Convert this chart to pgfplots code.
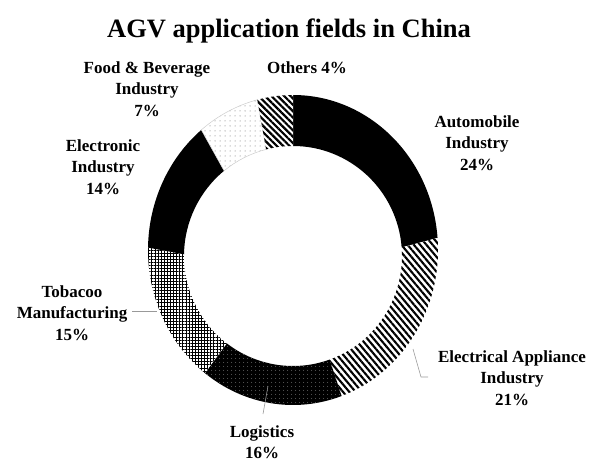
\documentclass[border=0pt]{standalone}
\usepackage{pgfplots}
\pgfplotsset{compat=1.18}
\usepackage{pgfplotstable}
\usetikzlibrary{patterns.meta}
\usepackage{fontspec}
\setmainfont{Liberation Serif}

\pgfplotstableread{
value
24
21
16
15
14
7
4
}\shares

\tikzset{
 seg0/.style={fill=black},
 seg1/.style={preaction={fill=white}, pattern={Lines[angle=-50,distance=4.8pt,line width=2.1pt]}},
 seg2/.style={preaction={fill=black}, pattern={Dots[distance=4pt,radius=0.5pt]}, pattern color=white!55!black},
 seg3/.style={preaction={fill=white}, pattern={Hatch[distance=3.1pt,line width=0.95pt]}},
 seg4/.style={fill=black},
 seg5/.style={preaction={fill=white}, pattern={Dots[distance=5pt,radius=0.5pt]}, pattern color=black!60, draw=black!20, line width=0.5pt},
 seg6/.style={preaction={fill=white}, pattern={Lines[angle=-45,distance=4.5pt,line width=2.2pt]}},
}

\pgfmathsetmacro\total{0}
\pgfplotsforeachungrouped \i in {0,...,6}{%
  \pgfplotstablegetelem{\i}{value}\of\shares
  \pgfmathsetmacro\total{\total+\pgfplotsretval}%
}
\pgfmathsetmacro\cum{0}
\pgfplotsforeachungrouped \i in {0,...,6}{%
  \pgfplotstablegetelem{\i}{value}\of\shares
  \pgfmathsetmacro\sa{90-360*(\cum/\total)}%
  \pgfmathsetmacro\cum{\cum+\pgfplotsretval}%
  \pgfmathsetmacro\ea{90-360*(\cum/\total)}%
  \expandafter\xdef\csname angS\i\endcsname{\sa}%
  \expandafter\xdef\csname angE\i\endcsname{\ea}%
}

\begin{document}
\begin{tikzpicture}
\begin{axis}[
  hide axis, x=1pt, y=1pt, scale only axis,
  xmin=0, xmax=592, ymin=0, ymax=461,
  clip=false, anchor=origin, at={(0,0)},
]
\addplot[draw=none] coordinates {(0,0) (592,461)};
\pgfplotsextra{%
  \foreach \i in {0,...,6}{%
    \edef\s{\csname angS\i\endcsname}%
    \edef\e{\csname angE\i\endcsname}%
    \fill[seg\i] (axis cs:{293+145*cos(\s)},{211+155*sin(\s)})
       arc[start angle=\s, end angle=\e, x radius=145pt, y radius=155pt]
       -- (axis cs:{293+109*cos(\e)},{205+110*sin(\e)})
       arc[start angle=\e, end angle=\s, x radius=109pt, y radius=110pt]
       -- cycle;
  }%
}
\draw[black!40, line width=0.6pt] (axis cs:132,150) -- (axis cs:157,150);
\draw[black!40, line width=0.6pt] (axis cs:263,47) -- (axis cs:268,75);
\draw[black!40, line width=0.6pt] (axis cs:413,112) -- (axis cs:421,84) -- (axis cs:428,84);

\node[font=\fontsize{26.5}{30}\selectfont\bfseries] at (axis cs:289,430) {AGV application fields in China};
\tikzset{lbl/.style={align=center, font=\fontsize{17}{21.5}\selectfont\bfseries, inner sep=0pt}}
\node[lbl] at (axis cs:147,372) {Food \& Beverage\\Industry\\7\%};
\node[lbl] at (axis cs:307,393) {Others 4\%};
\node[lbl] at (axis cs:103,294) {Electronic\\Industry\\14\%};
\node[lbl] at (axis cs:477,318) {Automobile\\Industry\\24\%};
\node[lbl] at (axis cs:72,148) {Tobacoo\\Manufacturing\\15\%};
\node[lbl] at (axis cs:262,19) {Logistics\\16\%};
\node[lbl] at (axis cs:512,83) {Electrical Appliance\\Industry\\21\%};
\end{axis}
\end{tikzpicture}
\end{document}
